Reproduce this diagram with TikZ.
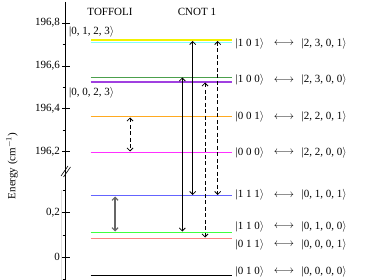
\documentclass[tikz,border=0pt]{standalone}
\usepackage{fontspec}
\setmainfont{Liberation Serif}
\usetikzlibrary{arrows.meta}
\definecolor{cyellow}{HTML}{F2F200}
\definecolor{ccyan}{HTML}{80FFFF}
\definecolor{cdgreen}{HTML}{4CA04C}
\definecolor{cpurple}{HTML}{A040E0}
\definecolor{corange}{HTML}{FFAA20}
\definecolor{cmagenta}{HTML}{FF30FF}
\definecolor{cblue}{HTML}{6464FF}
\definecolor{cbgreen}{HTML}{40FF40}
\definecolor{csalmon}{HTML}{FF8080}
\begin{document}
\begin{tikzpicture}[x=1pt,y=-1pt,font=\fontsize{11}{13}\selectfont,
  lvl/.style={line width=1.2pt},
  trans/.style={{Straight Barb[length=3pt,width=6pt]}-{Straight Barb[length=3pt,width=6pt]},line width=0.8pt},
  dtrans/.style={trans,dash pattern=on 4pt off 2.5pt},
  ket/.style={anchor=west,inner sep=0pt},
  dbl/.style={inner sep=0pt},
  ticklab/.style={anchor=east,inner sep=0pt},
  title/.style={inner sep=0pt}]
\useasboundingbox (0,0) rectangle (374,280);
% axis
\draw[line width=0.8pt] (65.7,2) -- (65.7,280);
\draw[gray!25,line width=0.5pt] (61.7,190) -- (61.7,280);
\draw[line width=0.6pt] (61,176) -- (68,166);
\draw[line width=0.6pt] (63.5,177) -- (70.5,167);
% major ticks
\foreach \y/\t in {23/{196,8},66/{196,6},108.7/{196,4},151.7/{196,2},212.7/{0,2},257.3/{0}}{
  \draw[line width=0.6pt] (62,\y) -- (69.5,\y);
  \node[ticklab] at (60,\y) {\t};
}
\foreach \y in {44.5,87.3,130.2,190.4,235,279}{
  \draw[line width=0.6pt] (62.5,\y) -- (65.7,\y);
}
\node[rotate=90,inner sep=0pt] (elab) at (12,166) {Energy (cm$^{-1}$)};
% titles
\node[title] (tof) at (110,12) {TOFFOLI};
\node[title] (cnot) at (197,12) {CNOT 1};
\node[ket] (s0123) at (69,32) {|0, 1, 2, 3$\rangle$};
\node[ket] (s0023) at (69,93) {|0, 0, 2, 3$\rangle$};
% levels
\draw[lvl,cyellow] (90.5,40) -- (232,40);
\draw[lvl,ccyan] (90.5,42.3) -- (232,42.3);
\draw[lvl,cdgreen] (90.5,77.5) -- (232,77.5);
\draw[lvl,cpurple] (90.5,82) -- (232,82);
\draw[lvl,corange] (90.5,116.3) -- (232,116.3);
\draw[lvl,cmagenta] (90.5,152.3) -- (232,152.3);
\draw[lvl,cblue] (90.5,195.7) -- (232,195.7);
\draw[lvl,cbgreen] (90.5,232.3) -- (232,232.3);
\draw[lvl,csalmon] (90.5,238.3) -- (232,238.3);
\draw[line width=0.9pt] (90.5,275.7) -- (232,275.7);
% labels
\foreach \n/\y/\a/\b in {101/43.3/{1 0 1}/{2, 3, 0, 1},100/80/{1 0 0}/{2, 3, 0, 0},001/117/{0 0 1}/{2, 2, 0, 1},000/152.7/{0 0 0}/{2, 2, 0, 0},111/195/{1 1 1}/{0, 1, 0, 1},110/226.7/{1 1 0}/{0, 1, 0, 0},011/244.3/{0 1 1}/{0, 0, 0, 1},010/271.7/{0 1 0}/{0, 0, 0, 0}}{
  \node[ket] (k\n) at (235.5,\y) {|\a$\rangle$};
  \node[dbl] (d\n) at (284,\y) {$\longleftrightarrow$};
  \node[ket] (q\n) at (301.5,\y) {|\b$\rangle$};
}
% transition endpoints
\coordinate (t1a) at (130,117.5);
\coordinate (t1b) at (130,151.5);
\coordinate (t2a) at (115,196.5);
\coordinate (t2b) at (115,231.5);
\coordinate (c1a) at (182.3,77.5);
\coordinate (c1b) at (182.3,231.5);
\coordinate (c2a) at (192.7,41);
\coordinate (c2b) at (192.7,195);
\coordinate (c3a) at (205,82.5);
\coordinate (c3b) at (205,237.5);
\coordinate (c4a) at (217.7,41);
\coordinate (c4b) at (217.7,195);
\draw[dtrans] (t1a) -- (t1b);
\draw[trans,line width=1.2pt,black!60] (t2a) -- (t2b);
\draw[trans] (c1a) -- (c1b);
\draw[trans] (c2a) -- (c2b);
\draw[dtrans] (c3a) -- (c3b);
\draw[dtrans] (c4a) -- (c4b);
\end{tikzpicture}
\end{document}
